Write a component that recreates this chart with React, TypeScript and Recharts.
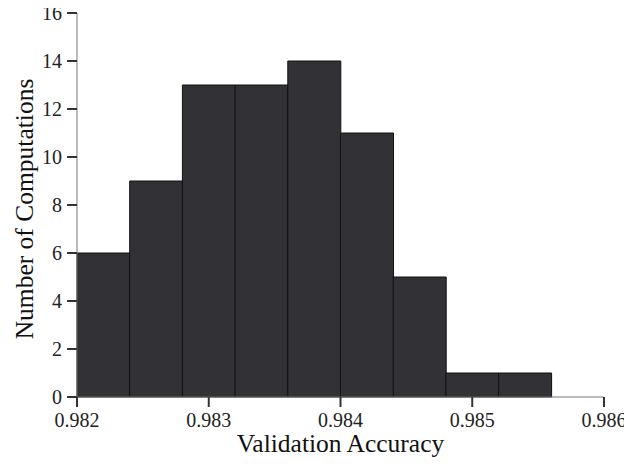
import React from 'react';
import { BarChart, Bar, XAxis, YAxis } from 'recharts';

const binCenters = [0.9822, 0.9826, 0.983, 0.9834, 0.9838, 0.9842, 0.9846, 0.985, 0.9854, 0.9858];
const counts = [6, 9, 13, 13, 14, 11, 5, 1, 1, 0];
const xTicks = [0.982, 0.983, 0.984, 0.985, 0.986];
const yTicks = [0, 2, 4, 6, 8, 10, 12, 14, 16];

const data = binCenters.map((c, i) => ({ bin: c, x: c, count: counts[i] }));

const FONT = '"Liberation Serif", "DejaVu Serif", serif';

const YLabel = (props: any) => {
  const vb = props.viewBox || {};
  const cx = 33;
  const cy = vb.y + vb.height / 2 + 4;
  return (
    <text
      x={cx}
      y={cy}
      transform={`rotate(-90, ${cx}, ${cy})`}
      textAnchor="middle"
      fontFamily={FONT}
      fontSize={25.5}
      fill="#111"
    >
      Number of Computations
    </text>
  );
};

const XLabel = (props: any) => {
  const vb = props.viewBox || {};
  return (
    <text
      x={vb.x + vb.width / 2}
      y={vb.y + 55}
      textAnchor="middle"
      fontFamily={FONT}
      fontSize={25.5}
      fill="#111"
    >
      Validation Accuracy
    </text>
  );
};

export default function App() {
  return (
    <div style={{ width: 632, height: 468, margin: -8 }}>
      <BarChart
        width={632}
        height={468}
        data={data}
        margin={{ top: 13, right: 28, left: 0, bottom: 0 }}
        barCategoryGap={0}
        barGap={0}
      >
        <XAxis xAxisId="cat" dataKey="bin" type="category" hide height={0} />
        <XAxis
          xAxisId="num"
          dataKey="x"
          type="number"
          domain={[0.982, 0.986]}
          ticks={xTicks}
          allowDataOverflow
          height={71}
          tickSize={10}
          tickMargin={6}
          tickFormatter={(v: number) => v.toFixed(3)}
          tick={{ fontFamily: FONT, fontSize: 20, fill: '#222' }}
          tickLine={{ stroke: '#333', strokeWidth: 2 }}
          axisLine={{ stroke: '#777', strokeWidth: 1 }}
          label={<XLabel />}
        />
        <YAxis
          domain={[0, 16]}
          ticks={yTicks}
          width={77}
          tickSize={10}
          tickMargin={5}
          interval={0}
          tick={{ fontFamily: FONT, fontSize: 20, fill: '#222' }}
          tickLine={{ stroke: '#333', strokeWidth: 2 }}
          axisLine={{ stroke: '#777', strokeWidth: 1 }}
          label={<YLabel />}
        />
        <Bar
          xAxisId="cat"
          dataKey="count"
          fill="#323136"
          stroke="#111"
          strokeWidth={1}
          isAnimationActive={false}
        />
      </BarChart>
    </div>
  );
}
